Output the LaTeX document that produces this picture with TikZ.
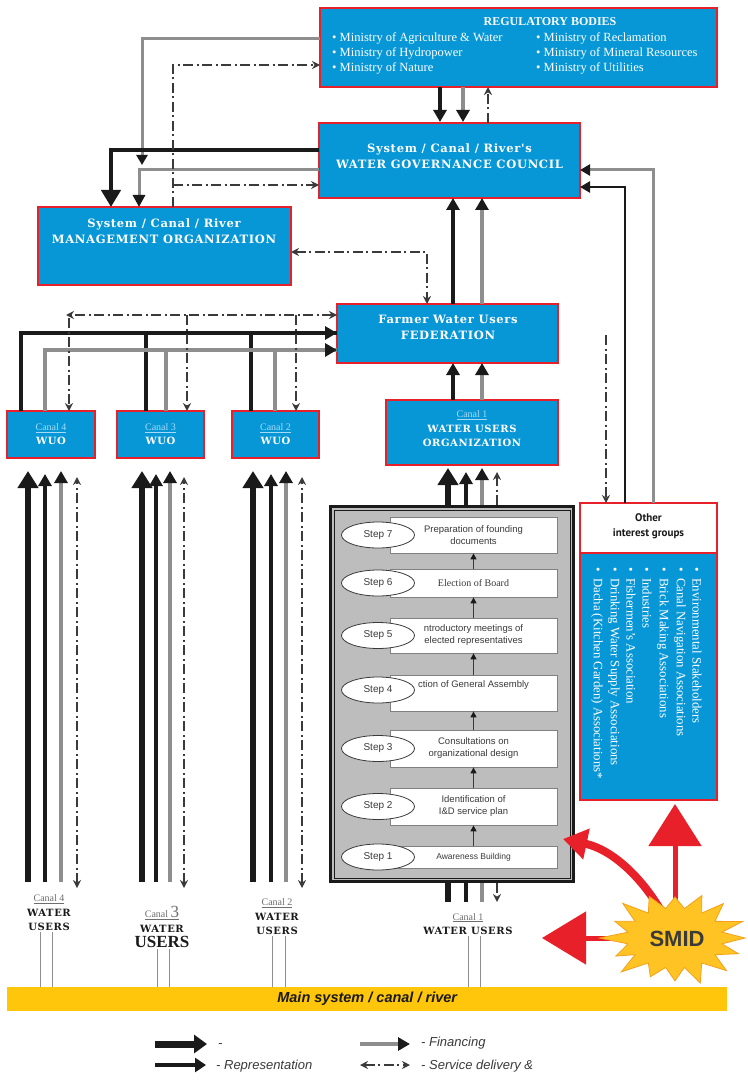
\documentclass[tikz,border=0pt]{standalone}
\usepackage{fontspec}
\setmainfont{Liberation Serif}
\setsansfont{Liberation Sans}
\newfontfamily\hdfont{DejaVu Serif}[LetterSpace=6]
\newfontfamily\ptsans{PT Sans}
\usetikzlibrary{arrows.meta,shapes.geometric,calc}
\definecolor{bluec}{HTML}{0897D6}
\definecolor{redc}{HTML}{E8202A}
\definecolor{blk}{HTML}{1A1A1A}
\definecolor{grayl}{HTML}{8E8E8E}
\definecolor{dkg}{HTML}{3A3A3A}
\definecolor{barc}{HTML}{FFC60B}
\definecolor{starc}{HTML}{FFC423}
\definecolor{stard}{HTML}{F5A01A}
\definecolor{lblue}{HTML}{A6DBF5}
\definecolor{grayt}{HTML}{6E6E6E}
\definecolor{boxg}{HTML}{BDBDBD}
\newcommand\myfs[2]{\fontsize{#1}{#2}\selectfont}
\begin{document}
\begin{tikzpicture}[x=1pt,y=-1pt,
 bbox/.style={draw=redc,line width=2.6pt,fill=bluec,anchor=north west,inner sep=0pt,outer sep=0pt},
 hd/.style={text=white,align=center,inner sep=0pt,font=\hdfont\bfseries\myfs{11.5}{16}},
 regitem/.style={text=white,anchor=west,inner sep=0pt,font=\myfs{12.5}{14}},
 oitem/.style={text=white,rotate=-90,anchor=west,inner sep=0pt,font=\myfs{12.8}{14}},
 rep/.style={draw=blk,line width=4pt,-{Triangle[length=12pt,width=13pt]}},
 repl/.style={draw=blk,line width=4pt},
 bigrep/.style={draw=blk,line width=6.5pt,-{Triangle[length=17pt,width=20pt]}},
 medrep/.style={draw=blk,line width=4pt,-{Triangle[length=12pt,width=13pt]}},
 fin/.style={draw=grayl,line width=4pt,-{Triangle[length=12pt,width=13pt,color=blk]}},
 finl/.style={draw=grayl,line width=3.5pt},
 svc/.style={draw=dkg,line width=1.4pt,dash pattern=on 10pt off 3.5pt on 2pt off 3.5pt},
 svcto/.style={svc,-{Stealth[length=8pt,width=8pt]}},
 svcboth/.style={svc,{Stealth[length=8pt,width=8pt]}-{Stealth[length=8pt,width=8pt]}},
 stepbox/.style={draw=gray,line width=0.8pt,fill=white,minimum width=167pt,align=center,inner sep=0pt,font=\sffamily\myfs{9.5}{12},text=dkg},
 stepell/.style={ellipse,draw=dkg,line width=0.8pt,fill=white,minimum width=73pt,minimum height=26pt,inner sep=0pt,font=\sffamily\myfs{10}{12},text=dkg},
 starr/.style={draw=dkg,line width=1.2pt,-{Triangle[length=6pt,width=6pt,color=blk]}},
 wul/.style={align=center,inner sep=1pt,font=\hdfont\bfseries\myfs{10}{14.5},text=blk},
 leg/.style={anchor=west,inner sep=0pt,font=\sffamily\itshape\myfs{13}{15},text=dkg}]
\useasboundingbox (0,0) rectangle (747,1083);
\fill[white] (0,0) rectangle (747,1083);

% ---------- boxes
\node[bbox,minimum width=397pt,minimum height=79pt] (reg) at (320,8) {};
\node[text=white,inner sep=0pt,font=\bfseries\myfs{12}{14}] (regt) at (550,22) {REGULATORY BODIES};
\node[regitem] (r1) at (332,38) {\textbullet\ Ministry of Agriculture \& Water};
\node[regitem] (r2) at (332,53) {\textbullet\ Ministry of Hydropower};
\node[regitem] (r3) at (332,68) {\textbullet\ Ministry of Nature};
\node[regitem] (r4) at (536,38) {\textbullet\ Ministry of Reclamation};
\node[regitem] (r5) at (536,53) {\textbullet\ Ministry of Mineral Resources};
\node[regitem] (r6) at (536,68) {\textbullet\ Ministry of Utilities};

\node[bbox,minimum width=261pt,minimum height=75pt] (gov) at (319,123) {};
\node[hd] (govt) at (449.5,156) {System / Canal / River's\\WATER GOVERNANCE COUNCIL};

\node[bbox,minimum width=253pt,minimum height=78pt] (mgmt) at (38,207) {};
\node[hd] (mgmtt) at (164,231) {System / Canal / River\\MANAGEMENT ORGANIZATION};

\node[bbox,minimum width=221pt,minimum height=59pt] (fed) at (337,304) {};
\node[hd] (fedt) at (448,327) {Farmer Water Users\\FEDERATION};

\node[bbox,minimum width=172pt,minimum height=65pt] (wuo1) at (386,400) {};
\node[hd,font=\hdfont\bfseries\myfs{10}{14.5}] (wuo1t) at (472,429) {{\rmfamily\mdseries\color{lblue}\underline{Canal 1}}\\WATER USERS\\ORGANIZATION};

\node[bbox,minimum width=88pt,minimum height=47pt] (wuo4) at (7,411) {};
\node[hd,font=\hdfont\bfseries\myfs{10}{14}] (wuo4t) at (51,434) {{\rmfamily\mdseries\color{lblue}\underline{Canal 4}}\\WUO};
\node[bbox,minimum width=87pt,minimum height=47pt] (wuo3) at (117,411) {};
\node[hd,font=\hdfont\bfseries\myfs{10}{14}] (wuo3t) at (160.5,434) {{\rmfamily\mdseries\color{lblue}\underline{Canal 3}}\\WUO};
\node[bbox,minimum width=87pt,minimum height=47pt] (wuo2) at (232,411) {};
\node[hd,font=\hdfont\bfseries\myfs{10}{14}] (wuo2t) at (275.5,434) {{\rmfamily\mdseries\color{lblue}\underline{Canal 2}}\\WUO};

\node[bbox,fill=white,minimum width=137pt,minimum height=50pt] (othtop) at (580,503) {};
\node[font=\ptsans\bfseries\myfs{11}{15},align=center,text=blk,inner sep=0pt] (otht) at (648.5,526) {Other\\interest groups};
\node[bbox,minimum width=137pt,minimum height=247pt] (othbody) at (580,553) {};
\node[oitem] (o1) at (697,567) {\textbullet\enspace Environmental Stakeholders};
\node[oitem] (o2) at (680,567) {\textbullet\enspace Canal Navigation Associations};
\node[oitem] (o3) at (663,567) {\textbullet\enspace Brick Making Associations};
\node[oitem] (o4) at (647,567) {\textbullet\enspace Industries};
\node[oitem] (o5) at (631,567) {\textbullet\enspace Fishermen's Association};
\node[oitem] (o6) at (614,567) {\textbullet\enspace Drinking Water Supply Associations};
\node[oitem] (o7) at (597,567) {\textbullet\enspace Dacha (Kitchen Garden) Associations*};

% ---------- connectors in the upper part
\draw[rep,shorten >=1pt] (reg.south -| 440,0) -- (gov.north -| 440,0);
\draw[fin,shorten >=1pt] (reg.south -| 463,0) -- (gov.north -| 463,0);
\draw[svcto] (gov.north -| 488,0) -- (reg.south -| 488,0);

\coordinate (gj) at (142,165);
\draw[fin,line width=3pt,-{Triangle[length=10pt,width=11pt,color=blk]}] (reg.west |- 0,39) -| (gj);
\draw[draw=blk,line width=4.5pt,-{Triangle[length=17pt,width=19pt]}] (gov.west |- 0,150) -| (mgmt.north -| 111,0);
\draw[fin,line width=3pt,-{Triangle[length=12pt,width=12pt,color=blk]}] (gov.west |- 0,170) -| (mgmt.north -| 139,0);
\draw[svcto] (mgmt.north -| 173,0) |- (reg.west |- 0,65);
\coordinate (mj) at (173,185);
\draw[svcto] (mj) -- (gov.west |- mj);
\draw[svcboth] (mgmt.east |- 0,252) -| (fed.north -| 427,0);

\draw[rep,line width=3.5pt] (fed.north -| 453,0) -- (gov.south -| 453,0);
\draw[fin,line width=3.5pt] (fed.north -| 482,0) -- (gov.south -| 482,0);
\draw[rep,line width=3.5pt] (wuo1.north -| 453,0) -- (fed.south -| 453,0);
\draw[fin,line width=3.5pt] (wuo1.north -| 482,0) -- (fed.south -| 482,0);

% canal WUOs to federation
\draw[repl,line width=3.5pt] (wuo3.north -| 146,0) |- (fed.west |- 0,333);
\draw[repl,line width=3.5pt] (wuo2.north -| 251,0) |- (fed.west |- 0,333);
\draw[rep,line width=3.5pt] (wuo4.north -| 21,0) |- (fed.west |- 0,333);
\draw[finl] (wuo3.north -| 166,0) |- (fed.west |- 0,350);
\draw[finl] (wuo2.north -| 275,0) |- (fed.west |- 0,350);
\draw[fin,line width=3.5pt] (wuo4.north -| 45,0) |- (fed.west |- 0,350);
\coordinate (sl) at (66,315);
\draw[svcboth] (fed.west |- sl) -- (sl);
\coordinate (s4) at (69,318);
\coordinate (s3) at (187,315);
\coordinate (s2) at (296,315);
\draw[svcto] (s4) -- (wuo4.north -| s4);
\draw[svcto] (s3) -- (wuo3.north -| s3);
\draw[svcto] (s2) -- (wuo2.north -| s2);

% other interest groups to council
\draw[draw=blk,line width=2.5pt,-{Triangle[length=10pt,width=11pt]}] (othtop.north -| 625,0) |- (gov.east |- 0,187);
\draw[draw=grayl,line width=3pt,-{Triangle[length=10pt,width=11pt,color=blk]}] (othtop.north -| 653,0) |- (gov.east |- 0,170);
\coordinate (sv1) at (606,335);
\draw[svcto] (sv1) -- (othtop.north -| sv1);

% ---------- canal bundles
\coordinate (botline) at (0,888);
\foreach \a/\b/\c/\d/\w in {28/45/61/77/wuo4, 142/156/170/184/wuo3, 253/271/286/302/wuo2}{
  \draw[bigrep,shorten <=6pt,shorten >=13pt] (botline -| \a,0) -- (\w.south -| \a,0);
  \draw[medrep,shorten <=6pt,shorten >=16pt] (botline -| \b,0) -- (\w.south -| \b,0);
  \draw[fin,shorten <=6pt,shorten >=13pt] (botline -| \c,0) -- (\w.south -| \c,0);
  \draw[svcboth,line width=1.3pt,shorten >=19pt] (botline -| \d,0) -- (\w.south -| \d,0);
}

% ---------- steps
\node[draw=blk,line width=3pt,fill=boxg,anchor=north west,minimum width=243pt,minimum height=375pt,inner sep=0pt] (steps) at (329,505) {};
\draw[blk,line width=1pt] ($(steps.north west)+(5,5)$) rectangle ($(steps.south east)+(-5,-5)$);
\node[stepbox,minimum height=36pt] (st7) at (473.5,535) {Preparation of founding\\documents};
\node[stepbox,minimum height=28pt,font=\rmfamily\myfs{10}{12}] (st6) at (473.5,583) {Election of Board};
\node[stepbox,minimum height=35pt] (st5) at (473.5,635.5) {ntroductory meetings of\\elected representatives};
\node[stepbox,minimum height=36pt] (st4) at (473.5,693) {ction of General Assembly\\[2pt]\strut};
\node[stepbox,minimum height=37pt] (st3) at (473.5,748.5) {Consultations on\\organizational design};
\node[stepbox,minimum height=37pt] (st2) at (473.5,806.5) {Identification of\\I\&D service plan};
\node[stepbox,minimum height=22pt,font=\sffamily\myfs{8.5}{10}] (st1) at (473.5,857) {Awareness Building};
\foreach \i/\y in {7/535,6/583,5/635.5,4/690,3/748.5,2/806.5,1/857}{
  \node[stepell] (e\i) at (378,\y) {Step \i};
}
\draw[starr] (st1.north) -- (st2.south);
\draw[starr] (st2.north) -- (st3.south);
\draw[starr] (st3.north) -- (st4.south);
\draw[starr] (st4.north) -- (st5.south);
\draw[starr] (st5.north) -- (st6.south);
\draw[starr] (st6.north) -- (st7.south);

% canal 1 bundle
\draw[bigrep,shorten >=3pt] (steps.north -| 448,0) -- (wuo1.south -| 448,0);
\draw[medrep,shorten >=7pt] (steps.north -| 466,0) -- (wuo1.south -| 466,0);
\draw[fin,shorten >=3pt] (steps.north -| 482,0) -- (wuo1.south -| 482,0);
\draw[svcto,line width=1.3pt,shorten >=7pt] (steps.north -| 497,0) -- (wuo1.south -| 497,0);
\coordinate (bot1) at (0,902);
\draw[draw=blk,line width=6.5pt] (steps.south -| 448,0) -- (bot1 -| 448,0);
\draw[draw=blk,line width=4pt] (steps.south -| 466,0) -- (bot1 -| 466,0);
\draw[draw=grayl,line width=4pt] (steps.south -| 482,0) -- (bot1 -| 482,0);
\draw[svcto,line width=1.3pt] (steps.south -| 497,0) -- (bot1 -| 497,0);

% ---------- water users labels and main canal
\node[anchor=north west,fill=barc,minimum width=720pt,minimum height=24pt,inner sep=0pt,font=\sffamily\bfseries\itshape\myfs{14.5}{16},text=blk] (bar) at (7,987) {Main system / canal / river};
\node[wul] (wu4) at (49,913) {{\rmfamily\mdseries\color{grayt}\underline{Canal 4}}\\WATER\\USERS};
\node[wul] (wu3) at (162,927) {{\rmfamily\mdseries\color{grayt}\underline{Canal {\myfs{17}{17}3}}}\\WATER\\[1pt]{\rmfamily\myfs{17}{17}USERS}};
\node[wul] (wu2) at (277,917) {{\rmfamily\mdseries\color{grayt}\underline{Canal 2}}\\WATER\\USERS};
\node[wul] (wu1) at (468,924) {{\rmfamily\mdseries\color{grayt}\underline{Canal 1}}\\WATER USERS};
\foreach \n/\p/\q in {wu4/40/52, wu3/157/169, wu2/272/285, wu1/468/480}{
  \draw[grayl,line width=0.9pt] (\n.south -| \p,0) -- (bar.north -| \p,0);
  \draw[grayl,line width=0.9pt] (\n.south -| \q,0) -- (bar.north -| \q,0);
}

% ---------- SMID
\coordinate (smidc) at (675,938);
\coordinate (lefttip) at (542,938);
\coordinate (curvtip) at (563,839);
\draw[redc,line width=5pt,-{Triangle[length=42pt,width=52pt]},shorten >=4pt] (smidc) -- (othbody.south -| smidc);
\draw[redc,line width=5pt,-{Triangle[length=44pt,width=52pt]}] (smidc) -- (lefttip);
\draw[redc,line width=8pt,-{Triangle[length=24pt,width=30pt]}] (smidc) .. controls (652,885) and (615,850) .. (curvtip);
\filldraw[fill=starc,draw=stard,line width=0.8pt] plot[samples at={0,...,31},variable=\t]
  ({675+(mod(\t,2)==0 ? 70+6*sin(\t*97) : 48)*cos(\t*11.25)},{938+(mod(\t,2)==0 ? 45+4*sin(\t*131) : 30)*sin(\t*11.25)}) -- cycle;
\node[font=\sffamily\bfseries\myfs{22}{24},text=dkg,inner sep=0pt] (smid) at (677,939) {SMID};

% ---------- legend
\coordinate (la1) at (155,1044); \coordinate (lb1) at (207,1044);
\coordinate (la2) at (360,1044); \coordinate (lb2) at (410,1044);
\coordinate (la3) at (155,1065); \coordinate (lb3) at (206,1065);
\coordinate (la4) at (360,1065); \coordinate (lb4) at (410,1065);
\draw[blk,line width=7pt,-{Triangle[length=13pt,width=18pt]}] (la1) -- (lb1);
\node[leg] (lg1) at (218,1046) {-};
\draw[fin] (la2) -- (lb2);
\node[leg] (lg2) at (421,1043) {- Financing};
\draw[blk,line width=4.5pt,-{Triangle[length=11pt,width=14pt]}] (la3) -- (lb3);
\node[leg] (lg3) at (216,1066) {- Representation};
\draw[svcboth] (la4) -- (lb4);
\node[leg] (lg4) at (421,1066) {- Service delivery \&};
\end{tikzpicture}
\end{document}
